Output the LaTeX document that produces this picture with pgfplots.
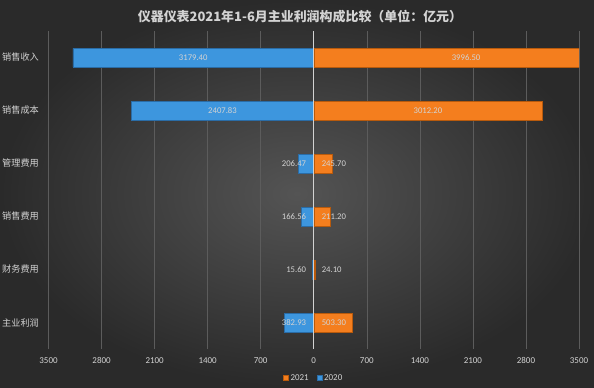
\documentclass[border=0pt]{standalone}
\usepackage{pgfplots}
\pgfplotsset{compat=1.18}
\usepackage{pgfplotstable}
\usepackage{fontspec}
\setmainfont{Carlito}
\newfontfamily\cjk{Noto Sans CJK SC}
\definecolor{bgin}{HTML}{545454}
\definecolor{bgout}{HTML}{2A2A2A}
\definecolor{gridc}{HTML}{5C5C5C}
\definecolor{txt}{HTML}{D3D3D3}
\definecolor{blu}{HTML}{3D96DE}
\definecolor{bluedge}{HTML}{2A6CA6}
\definecolor{org}{HTML}{F47E1E}
\definecolor{orgedge}{HTML}{B85A0C}
\pgfplotstableread{
y v2021 v2020
0 3996.50 -3179.40
1 3012.20 -2407.83
2 245.70 -206.47
3 211.20 -166.56
4 24.10 -15.60
5 503.30 -382.93
}\bars
\pgfplotstableread{
y x lab
0 -1590 3179.40
1 -1204 2407.83
}\bigtwenty
\pgfplotstableread{
y x lab
0 2010 3996.50
1 1506 3012.20
}\bigtwentyone
\pgfplotstableread{
y x lab
2 -55 206.47
3 -55 166.56
4 -55 15.60
5 -55 382.93
}\smalltwenty
\pgfplotstableread{
y x lab
2 60 245.70
3 60 211.20
4 60 24.10
5 60 503.30
}\smalltwentyone
\begin{document}
\begin{tikzpicture}[x=1bp,y=1bp]
\useasboundingbox (0,0) rectangle (594,387);
\shade[inner color=bgin, outer color=bgout] (0,0) rectangle (594,387);
\node[font=\cjk\fontsize{13}{15}\selectfont, text=txt] at (300,370) {\textbf{仪器仪表2021年1-6月主业利润构成比较（单位：亿元）}};
\begin{axis}[
  at={(48.5bp,38bp)}, anchor=south west,
  scale only axis, width=530.5bp, height=318bp,
  xmin=-3500, xmax=3500, ymin=-0.5, ymax=5.5, y dir=reverse,
  axis line style={draw=none},
  major tick length=0pt,
  xtick={-3500,-2800,-2100,-1400,-700,0,700,1400,2100,2800,3500},
  xticklabels={3500,2800,2100,1400,700,0,700,1400,2100,2800,3500},
  xmajorgrids, grid style={gridc, line width=0.6pt},
  ytick={0,1,2,3,4,5},
  yticklabels={销售收入,销售成本,管理费用,销售费用,财务费用,主业利润},
  yticklabel style={font=\cjk\fontsize{9.2}{11}\selectfont, text=txt, anchor=west, inner sep=0pt, xshift=-46.5bp},
  xticklabel style={font=\fontsize{9}{11}\selectfont, text=txt, yshift=-5bp},
  /pgf/number format/assume math mode=true,
  legend style={at={(0.5,0)}, anchor=center, yshift=-29bp, draw=none, fill=none,
    legend columns=-1, font=\fontsize{9}{11}\selectfont, text=txt,
    /tikz/every even column/.append style={column sep=6bp}},
  legend image code/.code={\fill[#1] (0bp,-2.5bp) rectangle (5bp,2.5bp);},
  nodes near coords style={font=\fontsize{8.7}{10}\selectfont, text=txt},
]
\addplot[xbar, bar width=18.5bp, bar shift=0pt, fill=blu, draw=bluedge, line width=0.5pt, forget plot] table[x=v2020, y=y] {\bars};
\addplot[xbar, bar width=18.5bp, bar shift=0pt, fill=org, draw=orgedge, line width=0.5pt, forget plot] table[x=v2021, y=y] {\bars};
\addlegendimage{fill=org, draw=orgedge}
\addlegendentry{2021}
\addlegendimage{fill=blu, draw=bluedge}
\addlegendentry{2020}
\draw[color=white!65!gray, line width=0.8pt] (axis cs:0,-0.5) -- (axis cs:0,5.5);
\addplot[only marks, mark=*, mark size=0pt, draw=none, point meta=explicit symbolic, nodes near coords, nodes near coords align={center}, forget plot] table[x=x, y=y, meta=lab] {\bigtwenty};
\addplot[only marks, mark=*, mark size=0pt, draw=none, point meta=explicit symbolic, nodes near coords, nodes near coords align={center}, forget plot] table[x=x, y=y, meta=lab] {\bigtwentyone};
\addplot[only marks, mark=*, mark size=0pt, draw=none, point meta=explicit symbolic, nodes near coords, nodes near coords align={anchor=east}, forget plot] table[x=x, y=y, meta=lab] {\smalltwenty};
\addplot[only marks, mark=*, mark size=0pt, draw=none, point meta=explicit symbolic, nodes near coords, nodes near coords align={anchor=west}, forget plot] table[x=x, y=y, meta=lab] {\smalltwentyone};
\end{axis}
\end{tikzpicture}
\end{document}
